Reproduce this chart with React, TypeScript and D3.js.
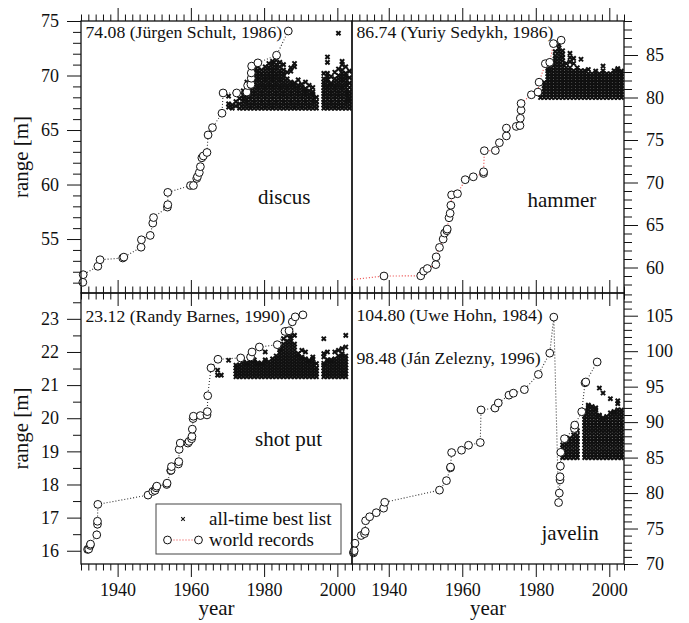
import { useRef, useEffect } from 'react';
import * as d3 from 'd3';

type Pt = [number, number];
type Col = [number, number[]];

// world record progressions [year, metres]
const discusRecords: Pt[] = [
  [1930.5, 51.03], [1930.6, 51.73], [1934.6, 52.5], [1935.2, 53.1], [1941.4, 53.26], [1941.7, 53.34],
  [1946.4, 54.25], [1946.5, 54.93], [1948.9, 55.33], [1949.6, 56.46], [1949.8, 56.97], [1953.6, 57.93],
  [1953.7, 58.15], [1953.7, 59.28], [1959.9, 59.91], [1960.7, 59.91], [1961.6, 60.56], [1961.8, 60.72],
  [1962.3, 61.1], [1962.6, 61.64], [1963.0, 62.45], [1963.4, 62.62], [1964.4, 62.94], [1964.7, 64.55],
  [1965.9, 65.22], [1968.5, 66.54], [1968.8, 68.4], [1972.5, 68.4], [1975.3, 68.48], [1975.5, 69.08],
  [1976.4, 69.18], [1976.5, 69.75], [1976.5, 70.24], [1976.6, 70.86], [1978.3, 71.16], [1983.4, 71.86],
  [1986.6, 74.08],
];
const hammerRecords: Pt[] = [
  [1913.5, 57.77], [1938.7, 59.0], [1948.7, 59.02], [1949.5, 59.57], [1950.5, 59.88], [1952.8, 60.34],
  [1952.9, 61.25], [1953.8, 62.36], [1954.8, 63.34], [1955.2, 64.05], [1955.8, 64.33], [1955.9, 64.52],
  [1956.4, 65.85], [1956.7, 66.38], [1956.9, 67.32], [1957.1, 68.54], [1958.7, 68.68], [1960.8, 70.33],
  [1963.0, 70.67], [1965.8, 71.06], [1965.8, 71.26], [1966.0, 73.74], [1969.0, 73.76], [1970.1, 74.68],
  [1972.0, 75.48], [1972.0, 76.4], [1974.7, 76.6], [1975.7, 76.7], [1975.8, 77.56], [1976.0, 78.5],
  [1976.0, 79.3], [1978.8, 80.32], [1980.6, 80.64], [1980.9, 81.8], [1982.6, 83.98], [1983.8, 84.14],
  [1984.8, 86.34], [1986.9, 86.74],
];
const shotRecords: Pt[] = [
  [1931.8, 16.04], [1932.1, 16.05], [1932.5, 16.16], [1932.6, 16.2], [1934.3, 16.48], [1934.5, 16.8],
  [1934.5, 16.89], [1934.6, 17.4], [1948.3, 17.68], [1949.6, 17.79], [1950.2, 17.82], [1950.5, 17.9],
  [1950.7, 17.95], [1953.4, 18.0], [1953.5, 18.04], [1954.5, 18.42], [1954.6, 18.43], [1954.7, 18.54],
  [1956.6, 18.62], [1956.7, 18.69], [1956.8, 19.06], [1957.1, 19.25], [1959.2, 19.25], [1959.5, 19.3],
  [1960.2, 19.38], [1960.3, 19.45], [1960.4, 19.67], [1960.6, 19.99], [1960.7, 20.06], [1962.6, 20.08],
  [1964.4, 20.1], [1964.5, 20.2], [1964.6, 20.68], [1965.5, 21.52], [1967.4, 21.78], [1973.6, 21.82],
  [1976.3, 21.85], [1976.7, 22.0], [1978.7, 22.15], [1983.6, 22.22], [1985.7, 22.62], [1986.8, 22.64],
  [1987.7, 22.91], [1988.5, 23.06], [1990.6, 23.12],
];
const javelinRecords: Pt[] = [
  [1930.4, 71.57], [1930.5, 71.7], [1930.6, 71.88], [1930.8, 72.93], [1932.5, 74.02], [1933.4, 74.28],
  [1933.6, 74.61], [1933.7, 76.1], [1934.8, 76.66], [1936.6, 77.23], [1938.6, 77.87], [1938.9, 78.7],
  [1953.8, 80.41], [1955.7, 81.75], [1956.8, 83.56], [1956.8, 83.66], [1957.1, 85.71], [1959.8, 86.04],
  [1961.7, 86.74], [1964.9, 87.12], [1965.1, 91.72], [1968.9, 91.98], [1969.8, 92.7], [1972.7, 93.8],
  [1973.9, 94.08], [1976.9, 94.58], [1980.7, 96.72], [1983.8, 99.72], [1984.9, 104.8],
  [1986.2, 78.66], [1986.4, 80.0], [1986.6, 81.85], [1986.6, 82.3], [1986.7, 83.8], [1986.8, 85.74],
  [1987.8, 87.66], [1990.5, 89.1], [1990.6, 89.58], [1992.5, 91.46], [1993.4, 95.54], [1993.6, 95.66],
  [1996.7, 98.48],
];

// all-time best lists, one column of marks per year
const discusBest: Col[] = [
  [1970, [67.1, 67.4, 68.1]],
  [1971, [67.0, 67.3]],
  [1972, [67.2, 67.6]],
  [1973, [67.0, 67.4, 67.9]],
  [1974, [67.0, 67.3, 67.6, 67.9, 68.2, 68.6]],
  [1975, [67.0, 67.3, 67.55, 67.8, 68.1, 68.35, 68.6, 68.9, 69.15, 69.4]],
  [1976, [67.0, 67.25, 67.5, 67.8, 68.05, 68.3, 68.6, 68.85, 69.1, 69.4, 69.7, 70.0]],
  [1977, [67.0, 67.3, 67.55, 67.8, 68.1, 68.35, 68.6, 68.9, 69.15, 69.4, 69.7, 69.95, 70.2, 70.6]],
  [1978, [67.0, 67.25, 67.5, 67.8, 68.05, 68.3, 68.6, 68.85, 69.1, 69.4, 69.65, 69.9, 70.2, 70.45, 70.8]],
  [1979, [67.0, 67.3, 67.55, 67.8, 68.1, 68.35, 68.6, 68.9, 69.15, 69.4, 69.7, 69.95, 70.2, 70.5]],
  [1980, [67.0, 67.25, 67.5, 67.8, 68.05, 68.3, 68.6, 68.85, 69.1, 69.4, 69.65, 69.9, 70.2, 70.5, 70.8]],
  [1981, [67.0, 67.3, 67.55, 67.8, 68.1, 68.35, 68.6, 68.9, 69.15, 69.4, 69.7, 69.95, 70.2, 70.5, 70.75, 71.1]],
  [1982, [67.0, 67.25, 67.5, 67.8, 68.05, 68.3, 68.6, 68.85, 69.1, 69.4, 69.65, 69.9, 70.2, 70.45, 70.7, 71.0, 71.3]],
  [1983, [67.0, 67.3, 67.55, 67.8, 68.1, 68.35, 68.6, 68.9, 69.15, 69.4, 69.7, 69.95, 70.2, 70.5, 70.75, 71.0, 71.4]],
  [1984, [67.0, 67.25, 67.5, 67.8, 68.05, 68.3, 68.6, 68.85, 69.1, 69.4, 69.65, 69.9, 70.2, 70.45, 70.8, 71.2]],
  [1985, [67.0, 67.3, 67.55, 67.8, 68.1, 68.35, 68.6, 68.9, 69.15, 69.4, 69.7, 69.95, 70.2, 70.5, 71.0]],
  [1986, [67.0, 67.25, 67.5, 67.8, 68.05, 68.3, 68.6, 68.85, 69.1, 69.4, 69.7, 70.3]],
  [1987, [67.0, 67.3, 67.55, 67.8, 68.1, 68.35, 68.6, 68.9, 69.15, 69.4, 70.4, 70.7]],
  [1988, [67.0, 67.25, 67.5, 67.8, 68.05, 68.3, 68.6, 68.85, 69.1, 69.3, 70.8, 71.1]],
  [1989, [67.0, 67.3, 67.55, 67.8, 68.1, 68.35, 68.6, 68.85, 69.1, 69.6]],
  [1990, [67.0, 67.25, 67.5, 67.8, 68.05, 68.3, 68.6, 68.9, 69.2]],
  [1991, [67.0, 67.3, 67.55, 67.8, 68.1, 68.35, 68.55, 68.8, 69.4]],
  [1992, [67.0, 67.25, 67.5, 67.8, 68.05, 68.3, 68.6, 69.1]],
  [1993, [67.0, 67.3, 67.55, 67.8, 68.1, 68.3, 68.5, 68.9]],
  [1994, [67.0, 67.3, 67.6, 68.0]],
  [1996, [67.0, 67.3, 67.55, 67.8, 68.1, 68.35, 68.6, 68.9, 69.15, 69.4, 69.7, 70.2]],
  [1997, [67.0, 67.25, 67.5, 67.8, 68.05, 68.3, 68.6, 68.85, 69.1, 69.4, 69.65, 69.9, 70.2, 71.2, 71.7]],
  [1998, [67.0, 67.3, 67.55, 67.8, 68.1, 68.35, 68.6, 68.9, 69.15, 69.3, 69.9]],
  [1999, [67.0, 67.25, 67.5, 67.8, 68.05, 68.3, 68.6, 68.85, 69.1, 69.4, 69.7, 70.3]],
  [2000, [67.0, 67.3, 67.55, 67.8, 68.1, 68.35, 68.6, 68.9, 69.15, 69.4, 69.7, 70.0, 70.6, 73.88]],
  [2001, [67.0, 67.25, 67.5, 67.8, 68.05, 68.3, 68.6, 68.85, 69.1, 69.4, 69.65, 69.9, 70.2, 70.5, 71.0, 71.3]],
  [2002, [67.0, 67.3, 67.55, 67.8, 68.1, 68.35, 68.6, 68.9, 69.15, 69.4, 69.7, 69.95, 70.2, 70.8]],
  [2003, [67.0, 67.3, 67.6, 67.9, 68.2, 68.5, 68.9, 69.3, 69.8, 70.4]],
];
const hammerBest: Col[] = [
  [1981, [80.0, 80.35]],
  [1982, [80.0, 80.35, 80.7, 81.05, 81.4, 81.75]],
  [1983, [80.0, 80.35, 80.7, 81.05, 81.4, 81.75, 82.1, 82.45, 82.8, 83.15, 83.4]],
  [1984, [80.0, 80.35, 80.7, 81.05, 81.4, 81.75, 82.1, 82.45, 82.8, 83.15, 83.5, 84.0]],
  [1985, [80.0, 80.35, 80.7, 81.05, 81.4, 81.75, 82.1, 82.45, 82.8, 83.15, 83.5, 83.85, 84.2, 84.55, 84.9, 85.4]],
  [1986, [80.0, 80.35, 80.7, 81.05, 81.4, 81.75, 82.1, 82.45, 82.8, 83.15, 83.5, 83.85, 84.2, 84.6, 85.0, 85.4, 85.8, 86.2]],
  [1987, [80.0, 80.35, 80.7, 81.05, 81.4, 81.75, 82.1, 82.45, 82.8, 83.15, 83.5, 83.85, 84.3, 84.7, 85.1, 85.5]],
  [1988, [80.0, 80.35, 80.7, 81.05, 81.4, 81.75, 82.1, 82.45, 82.8, 83.15, 83.5, 84.0]],
  [1989, [80.0, 80.35, 80.7, 81.05, 81.4, 81.75, 82.1, 82.45, 82.8, 83.15, 83.5, 84.2, 84.7, 85.2]],
  [1990, [80.0, 80.35, 80.7, 81.05, 81.4, 81.75, 82.1, 82.45, 82.8, 83.15, 84.0, 84.6]],
  [1991, [80.0, 80.35, 80.7, 81.05, 81.4, 81.75, 82.1, 82.45, 82.8, 83.15, 83.5]],
  [1992, [80.0, 80.35, 80.7, 81.05, 81.4, 81.75, 82.1, 82.45, 82.8, 83.15, 84.5]],
  [1993, [80.0, 80.35, 80.7, 81.05, 81.4, 81.75, 82.1, 82.45, 82.8, 83.15]],
  [1994, [80.0, 80.35, 80.7, 81.05, 81.4, 81.75, 82.1, 82.45, 82.8, 83.3]],
  [1995, [80.0, 80.35, 80.7, 81.05, 81.4, 81.75, 82.1, 82.45, 82.8]],
  [1996, [80.0, 80.35, 80.7, 81.05, 81.4, 81.75, 82.1, 82.45, 82.8, 83.1]],
  [1997, [80.0, 80.35, 80.7, 81.05, 81.4, 81.75, 82.1, 82.45, 82.8]],
  [1998, [80.0, 80.35, 80.7, 81.05, 81.4, 81.75, 82.1, 82.45, 82.8, 83.15, 83.7]],
  [1999, [80.0, 80.35, 80.7, 81.05, 81.4, 81.75, 82.1, 82.45, 82.8]],
  [2000, [80.0, 80.35, 80.7, 81.05, 81.4, 81.75, 82.1, 82.45, 82.8]],
  [2001, [80.0, 80.35, 80.7, 81.05, 81.4, 81.75, 82.1, 82.45, 82.8, 83.15]],
  [2002, [80.0, 80.35, 80.7, 81.05, 81.4, 81.75, 82.1, 82.45, 82.8, 83.15, 83.4]],
  [2003, [80.0, 80.35, 80.7, 81.05, 81.4, 81.75, 82.1, 82.45, 82.8, 83.1]],
];
const shotBest: Col[] = [
  [1967, [21.3, 21.45]],
  [1968, [21.3]],
  [1970, [21.75]],
  [1972, [21.25, 21.34, 21.43, 21.52, 21.6]],
  [1973, [21.25, 21.34, 21.43, 21.52, 21.61]],
  [1974, [21.25, 21.34, 21.43, 21.52, 21.61, 21.7]],
  [1975, [21.25, 21.34, 21.43, 21.52, 21.61, 21.67]],
  [1976, [21.25, 21.34, 21.43, 21.52, 21.61, 21.7, 21.8]],
  [1977, [21.25, 21.34, 21.43, 21.52, 21.61, 21.7, 21.76]],
  [1978, [21.25, 21.34, 21.43, 21.52, 21.61, 21.67]],
  [1979, [21.25, 21.34, 21.43, 21.52, 21.61, 21.66]],
  [1980, [21.25, 21.34, 21.43, 21.52, 21.61, 21.7, 21.76, 22.0]],
  [1981, [21.25, 21.34, 21.43, 21.52, 21.61, 21.7]],
  [1982, [21.25, 21.34, 21.43, 21.52, 21.61, 21.7, 21.79]],
  [1983, [21.25, 21.34, 21.43, 21.52, 21.61, 21.7, 21.79, 21.88]],
  [1984, [21.25, 21.34, 21.43, 21.52, 21.61, 21.7, 21.79, 21.88, 21.97, 22.06, 22.1]],
  [1985, [21.25, 21.34, 21.43, 21.52, 21.61, 21.7, 21.79, 21.88, 21.97, 22.06, 22.15, 22.24, 22.4]],
  [1986, [21.25, 21.34, 21.43, 21.52, 21.61, 21.7, 21.79, 21.88, 21.97, 22.06, 22.15, 22.24, 22.33, 22.5]],
  [1987, [21.25, 21.34, 21.43, 21.52, 21.61, 21.7, 21.79, 21.88, 21.97, 22.06, 22.15, 22.24, 22.33, 22.42, 22.5, 22.65]],
  [1988, [21.25, 21.34, 21.43, 21.52, 21.61, 21.7, 21.79, 21.88, 21.97, 22.06, 22.15, 22.24, 22.5]],
  [1989, [21.25, 21.34, 21.43, 21.52, 21.61, 21.7, 21.79, 21.88, 21.95]],
  [1990, [21.25, 21.34, 21.43, 21.52, 21.61, 21.7, 21.79, 21.85, 22.05]],
  [1991, [21.25, 21.34, 21.43, 21.52, 21.61, 21.7, 21.79, 22.0]],
  [1992, [21.25, 21.34, 21.43, 21.52, 21.61, 21.7, 21.75]],
  [1993, [21.25, 21.34, 21.43, 21.52, 21.61, 21.7, 21.79, 21.85]],
  [1994, [21.25, 21.34, 21.43, 21.52, 21.65]],
  [1996, [21.25, 21.34, 21.43, 21.52, 21.61, 21.66, 21.85, 21.95, 22.4]],
  [1997, [21.25, 21.34, 21.43, 21.52, 21.61, 21.7, 21.76, 22.0]],
  [1998, [21.25, 21.34, 21.43, 21.52, 21.61, 21.7, 21.76]],
  [1999, [21.25, 21.34, 21.43, 21.52, 21.61, 21.7, 21.79, 22.0]],
  [2000, [21.25, 21.34, 21.43, 21.52, 21.61, 21.7, 21.79, 21.88, 22.05]],
  [2001, [21.25, 21.34, 21.43, 21.52, 21.61, 21.7, 21.79, 21.88, 21.95, 22.1]],
  [2002, [21.25, 21.34, 21.43, 21.52, 21.61, 21.7, 21.79, 21.88, 22.15, 22.5]],
];
const javelinBest: Col[] = [
  [1987, [85.0, 85.45, 85.9, 86.35, 86.8]],
  [1988, [85.0, 85.45, 85.9, 86.35, 86.8, 87.2]],
  [1989, [85.0, 85.45, 85.9, 86.35, 86.8, 87.25, 87.7]],
  [1990, [85.0, 85.45, 85.9, 86.35, 86.8, 87.25, 87.7, 88.2]],
  [1991, [85.0, 85.45, 85.9, 86.35, 86.8, 87.25, 87.7, 88.15, 88.8]],
  [1993, [85.0, 85.45, 85.9, 86.35, 86.8, 87.25, 87.7, 88.15, 88.6, 89.05, 89.5, 89.95, 90.4, 90.85, 91.3, 91.6]],
  [1994, [85.0, 85.45, 85.9, 86.35, 86.8, 87.25, 87.7, 88.15, 88.6, 89.05, 89.5, 89.95, 90.4, 90.85, 91.3, 91.75, 92.2, 92.4]],
  [1995, [85.0, 85.45, 85.9, 86.35, 86.8, 87.25, 87.7, 88.15, 88.6, 89.05, 89.5, 89.95, 90.4, 90.85, 91.3, 91.75, 92.2]],
  [1996, [85.0, 85.45, 85.9, 86.35, 86.8, 87.25, 87.7, 88.15, 88.6, 89.05, 89.5, 89.95, 90.4, 90.85, 91.3, 91.75, 92.0]],
  [1997, [85.0, 85.45, 85.9, 86.35, 86.8, 87.25, 87.7, 88.15, 88.6, 89.05, 89.5, 89.95, 90.4, 90.85, 91.0, 94.8]],
  [1998, [85.0, 85.45, 85.9, 86.35, 86.8, 87.25, 87.7, 88.15, 88.6, 89.05, 89.5, 89.95, 90.4, 90.6, 94.1]],
  [1999, [85.0, 85.45, 85.9, 86.35, 86.8, 87.25, 87.7, 88.15, 88.6, 89.05, 89.5, 89.95, 90.4, 90.8]],
  [2000, [85.0, 85.45, 85.9, 86.35, 86.8, 87.25, 87.7, 88.15, 88.6, 89.05, 89.5, 89.95, 90.4, 90.85, 91.3, 93.3]],
  [2001, [85.0, 85.45, 85.9, 86.35, 86.8, 87.25, 87.7, 88.15, 88.6, 89.05, 89.5, 89.95, 90.4, 90.85, 91.3, 91.5]],
  [2002, [85.0, 85.45, 85.9, 86.35, 86.8, 87.25, 87.7, 88.15, 88.6, 89.05, 89.5, 89.95, 90.4, 90.85, 91.3, 91.75, 92.6, 93.0]],
  [2003, [85.0, 85.45, 85.9, 86.35, 86.8, 87.25, 87.7, 88.15, 88.6, 89.05, 89.5, 89.95, 90.4, 90.85, 91.3, 91.7]],
];

const eventNames = ['discus', 'hammer', 'shot put', 'javelin'];
const recordNotes = [
  ['74.08 (Jürgen Schult, 1986)'],
  ['86.74 (Yuriy Sedykh, 1986)'],
  ['23.12 (Randy Barnes, 1990)'],
  ['104.80 (Uwe Hohn, 1984)', '98.48 (Ján Zelezny, 1996)'],
];
const yearTicks = [1940, 1960, 1980, 2000];
const discusTicks = [55, 60, 65, 70, 75];
const hammerTicks = [60, 65, 70, 75, 80, 85];
const shotTicks = [16, 17, 18, 19, 20, 21, 22, 23];
const javelinTicks = [70, 75, 80, 85, 90, 95, 100, 105];
const legendLabels = ['all-time best list', 'world records'];

const FONT = '"Liberation Serif", "Times New Roman", serif';
const RED = '#ea3b3b';
const CROSS = 'M-2.1,-2.1L2.1,2.1M-2.1,2.1L2.1,-2.1';
const SMALL_CROSS = 'M-1.8,-1.8L1.8,1.8M-1.8,1.8L1.8,-1.8';

export default function App() {
  const svgRef = useRef<SVGSVGElement>(null);

  useEffect(() => {
    if (!svgRef.current) return;
    const svg = d3.select(svgRef.current);
    svg.selectAll('*').remove();

    const colX = [[81, 352], [352, 624]];
    const rowY = [[21, 293], [293, 564]];

    const panels = [
      { rec: discusRecords, best: discusBest, domain: [50.05, 75.0], ticks: discusTicks, minor: d3.range(51, 75.01, 1),
        col: 0, row: 0, line: '#333', label: [258, 203.5], notes: [37.5] },
      { rec: hammerRecords, best: hammerBest, domain: [57.0, 89.0], ticks: hammerTicks, minor: d3.range(58, 89.01, 1),
        col: 1, row: 0, line: RED, label: [527.5, 206.5], notes: [37.5] },
      { rec: shotRecords, best: shotBest, domain: [15.6, 23.78], ticks: shotTicks, minor: d3.range(16, 23.76, 0.5),
        col: 0, row: 1, line: '#333', label: [255, 446], notes: [321.5] },
      { rec: javelinRecords, best: javelinBest, domain: [70, 108.2], ticks: javelinTicks, minor: d3.range(70, 108.1, 1),
        col: 1, row: 1, line: '#333', label: [541.5, 539.5], notes: [320.5, 364] },
    ];

    const styleAxis = (a: d3.Selection<SVGGElement, unknown, null, undefined>) => {
      a.select('.domain').remove();
      a.attr('font-family', FONT).attr('font-size', 18);
      a.selectAll('line').attr('stroke', '#111').attr('stroke-width', 1);
      a.selectAll('text').attr('fill', '#111');
    };

    panels.forEach((p, i) => {
      const [x0, x1] = colX[p.col];
      const [y0, y1] = rowY[p.row];
      const x = d3.scaleLinear().domain([1930, 2004]).range([x0, x1]);
      const y = d3.scaleLinear().domain(p.domain).range([y1, y0]);

      const clipId = `clip-${i}`;
      svg.append('clipPath').attr('id', clipId)
        .append('rect').attr('x', x0).attr('y', y0).attr('width', x1 - x0).attr('height', y1 - y0);

      const plot = svg.append('g').attr('clip-path', `url(#${clipId})`);

      // all-time best list
      const pts: Pt[] = p.best.flatMap(([yr, vals]) => vals.map((v) => [yr + 0.3, v] as Pt));
      plot.append('g').selectAll('path').data(pts).join('path')
        .attr('d', CROSS)
        .attr('transform', (d) => `translate(${x(d[0])},${y(d[1])})`)
        .attr('stroke', '#111').attr('stroke-width', 2).attr('fill', 'none');

      // world record line
      const line = d3.line<Pt>().x((d) => x(d[0])).y((d) => y(d[1]));
      plot.append('path').datum(p.rec)
        .attr('d', line).attr('fill', 'none')
        .attr('stroke', p.line).attr('stroke-width', 1.1).attr('stroke-dasharray', '1,2');

      // world record circles
      svg.append('g').selectAll('circle').data(p.rec.filter((d) => d[0] >= 1930)).join('circle')
        .attr('cx', (d) => x(d[0])).attr('cy', (d) => y(d[1])).attr('r', 3.9)
        .attr('fill', '#fff').attr('stroke', '#111').attr('stroke-width', 1);

      // frame
      svg.append('rect').attr('x', x0).attr('y', y0).attr('width', x1 - x0).attr('height', y1 - y0)
        .attr('fill', 'none').attr('stroke', '#111').attr('stroke-width', 1.3);

      // x axes (top and bottom of every panel)
      const xMinor = d3.range(1930, 2005, 2).filter((v) => !yearTicks.includes(v));
      const top = svg.append('g').attr('transform', `translate(0,${y0})`);
      top.append('g').call(d3.axisTop(x).tickValues(xMinor).tickSize(6.5).tickFormat(() => '')).call(styleAxis);
      top.append('g').call(d3.axisTop(x).tickValues(yearTicks).tickSize(13).tickFormat(() => '')).call(styleAxis);
      const bot = svg.append('g').attr('transform', `translate(0,${y1})`);
      bot.append('g').call(d3.axisBottom(x).tickValues(xMinor).tickSize(6.5).tickFormat(() => '')).call(styleAxis);
      bot.append('g').call(d3.axisBottom(x).tickValues(yearTicks).tickSize(13).tickPadding(6)
        .tickFormat(p.row === 1 ? d3.format('d') : () => '')).call(styleAxis);

      // y axis, left for column 0 and right for column 1
      const yMinor = p.minor.filter((v) => !p.ticks.includes(v));
      const yg = svg.append('g').attr('transform', `translate(${p.col === 0 ? x0 : x1},0)`);
      const mk = p.col === 0 ? d3.axisLeft : d3.axisRight;
      yg.append('g').call(mk(y).tickValues(yMinor).tickSize(8).tickFormat(() => '')).call(styleAxis);
      yg.append('g').call(mk(y).tickValues(p.ticks).tickSize(14).tickPadding(8).tickFormat(d3.format('d'))).call(styleAxis);

      // texts
      svg.append('text').attr('x', p.label[0]).attr('y', p.label[1])
        .attr('font-family', FONT).attr('font-size', 21).attr('fill', '#111')
        .text(eventNames[i]);
      recordNotes[i].forEach((t, k) => {
        svg.append('text').attr('x', x0 + 4.5).attr('y', p.notes[k])
          .attr('font-family', FONT).attr('font-size', 17.7).attr('fill', '#111')
          .text(t);
      });
    });

    // axis titles
    colX.forEach(([a, b]) => {
      svg.append('text').attr('x', (a + b) / 2).attr('y', 615)
        .attr('text-anchor', 'middle').attr('font-family', FONT).attr('font-size', 21).attr('fill', '#111')
        .text('year');
    });
    rowY.forEach(([a, b]) => {
      svg.append('text').attr('transform', `translate(28,${(a + b) / 2}) rotate(-90)`)
        .attr('text-anchor', 'middle').attr('font-family', FONT).attr('font-size', 21).attr('fill', '#111')
        .text('range [m]');
    });

    // legend
    const lg = svg.append('g');
    lg.append('rect').attr('x', 156).attr('y', 504).attr('width', 185).attr('height', 50)
      .attr('fill', '#fff').attr('stroke', '#444').attr('stroke-width', 1);
    lg.append('path').attr('d', SMALL_CROSS).attr('transform', 'translate(183,519)')
      .attr('stroke', '#111').attr('stroke-width', 1.1);
    lg.append('line').attr('x1', 167.5).attr('x2', 198.5).attr('y1', 540).attr('y2', 540)
      .attr('stroke', RED).attr('stroke-width', 1.1).attr('stroke-dasharray', '1,2');
    [167.5, 198.5].forEach((cx) => {
      lg.append('circle').attr('cx', cx).attr('cy', 540).attr('r', 3.9)
        .attr('fill', '#fff').attr('stroke', '#111').attr('stroke-width', 1);
    });
    legendLabels.forEach((t, k) => {
      lg.append('text').attr('x', 209).attr('y', 524.5 + k * 21)
        .attr('font-family', FONT).attr('font-size', 19).attr('fill', '#111')
        .text(t);
    });
  }, []);

  return (
    <svg
      ref={svgRef}
      width={689}
      height={623}
      style={{ position: 'absolute', left: 0, top: 0, background: '#fff' }}
    />
  );
}
